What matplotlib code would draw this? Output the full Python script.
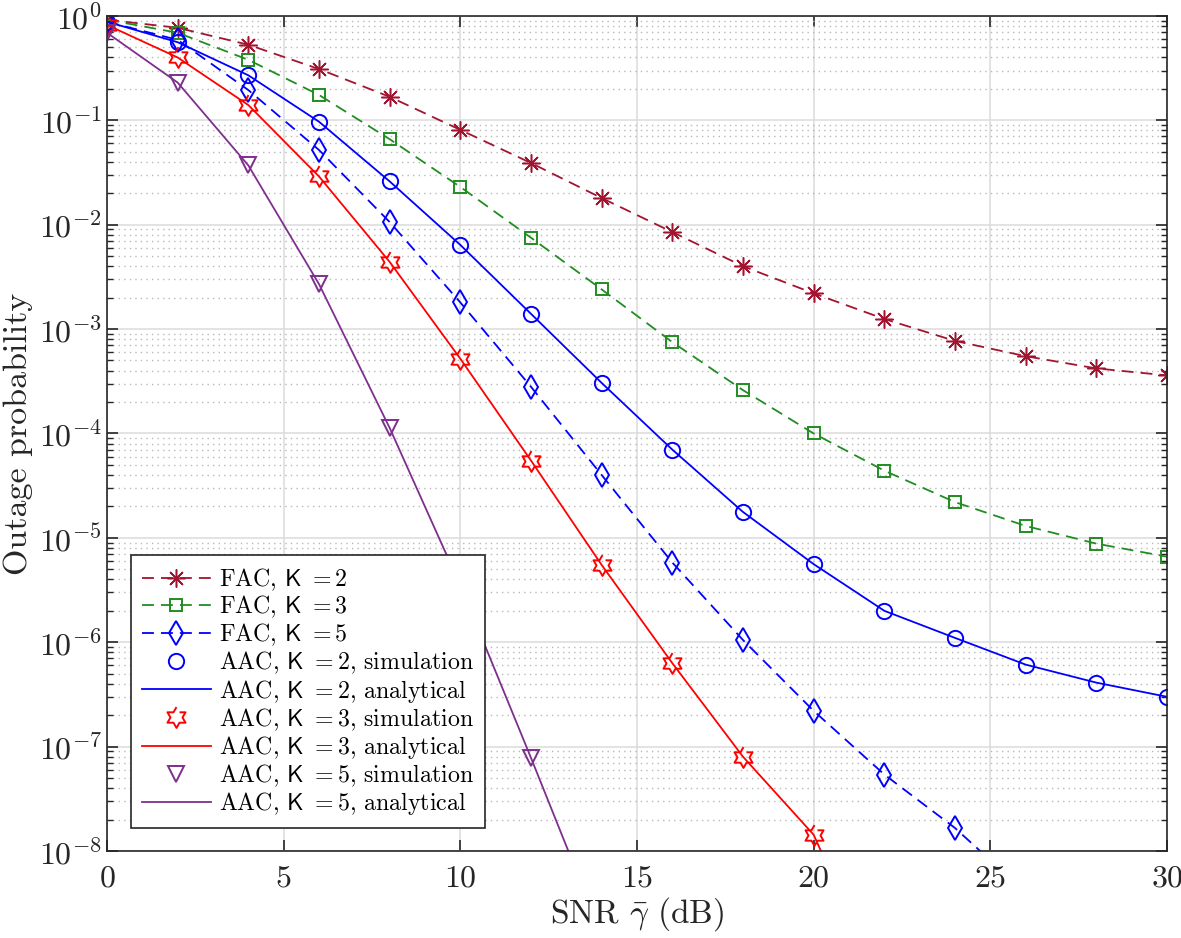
import numpy as np
import matplotlib
matplotlib.use("Agg")
import matplotlib.pyplot as plt
from matplotlib.ticker import LogLocator, NullFormatter, FixedLocator

plt.rcParams['font.family'] = 'cmr10'
plt.rcParams['mathtext.fontset'] = 'cm'
plt.rcParams['axes.unicode_minus'] = False
plt.rcParams['axes.formatter.use_mathtext'] = True

snr = [0, 2, 4, 6, 8, 10, 12, 14, 16, 18, 20, 22, 24, 26, 28, 30]

fac_k2 = [0.92, 0.77, 0.53, 0.31, 0.168, 0.081, 0.039, 0.018, 0.0085, 0.0040,
          0.0022, 0.00125, 0.00077, 0.00055, 0.00042, 0.00036]
fac_k3 = [0.92, 0.69, 0.38, 0.175, 0.066, 0.023, 0.0075, 0.0024, 0.00075, 0.00026,
          1.0e-4, 4.4e-5, 2.2e-5, 1.3e-5, 8.8e-6, 6.6e-6]
fac_k5 = [0.88, 0.59, 0.195, 0.052, 0.0106, 0.0018, 2.8e-4, 4.0e-5, 5.8e-6, 1.05e-6,
          2.2e-7, 5.4e-8, 1.66e-8, 4e-9]
aac_k2 = [0.88, 0.56, 0.27, 0.097, 0.026, 0.0064, 0.0014, 3.05e-4, 7.0e-5, 1.77e-5,
          5.6e-6, 2.0e-6, 1.1e-6, 6.1e-7, 4.1e-7, 3.0e-7]
aac_k3 = [0.82, 0.40, 0.14, 0.029, 0.0044, 5.2e-4, 5.5e-5, 5.5e-6, 6.3e-7, 8.0e-8,
          1.43e-8, 4.5e-10]
aac_k5 = [0.69, 0.23, 0.037, 0.0027, 1.13e-4, 3.5e-6, 7.8e-8, 1.6e-9]

dark_red = (0.635, 0.078, 0.184)
green = (0.13, 0.55, 0.13)
blue = (0, 0, 1)
red = (1, 0, 0)
purple = (0.494, 0.184, 0.556)
dark = (0.15, 0.15, 0.15)

# hexagram marker
ang = np.pi / 2 + np.arange(12) * np.pi / 6
rad = np.where(np.arange(12) % 2 == 0, 1.0, 1 / np.sqrt(3))
hexagram = list(zip(rad * np.cos(ang), rad * np.sin(ang)))

fig = plt.figure(figsize=(11.81, 9.38), dpi=100)
ax = fig.add_axes([0.0906, 0.0928, 0.8975, 0.8902])

lw = 1.3
dash = (6.6, 3.9)
ax.plot(snr[:len(fac_k2)], fac_k2, '--', color=dark_red, marker=(8, 2, 0), ms=13,
        mfc='none', lw=lw, mew=1.1, dashes=dash, label=r'FAC, $\mathsf{K}\ = 2$')
ax.plot(snr[:len(fac_k3)], fac_k3, '--', color=green, marker='s', ms=9,
        mfc='none', lw=lw, mew=1.4, dashes=dash, label=r'FAC, $\mathsf{K}\ = 3$')
ax.plot(snr[:len(fac_k5)], fac_k5, '--', color=blue, marker='d', ms=12.5,
        mfc='none', lw=lw, mew=1.4, dashes=dash, label=r'FAC, $\mathsf{K}\ = 5$')
ax.plot(snr[:len(aac_k2)], aac_k2, 'o', color=blue, ms=11, mfc='none', mew=1.4,
        label=r'AAC, $\mathsf{K}\ = 2$, simulation')
ax.plot(snr[:len(aac_k2)], aac_k2, '-', color=blue, lw=lw,
        label=r'AAC, $\mathsf{K}\ = 2$, analytical')
ax.plot(snr[:len(aac_k3)], aac_k3, ' ', color=red, marker=hexagram, ms=15, mfc='none',
        mew=1.4, label=r'AAC, $\mathsf{K}\ = 3$, simulation')
ax.plot(snr[:len(aac_k3)], aac_k3, '-', color=red, lw=lw,
        label=r'AAC, $\mathsf{K}\ = 3$, analytical')
ax.plot(snr[:len(aac_k5)], aac_k5, 'v', color=purple, ms=12, mfc='none', mew=1.4,
        label=r'AAC, $\mathsf{K}\ = 5$, simulation')
ax.plot(snr[:len(aac_k5)], aac_k5, '-', color=purple, lw=lw,
        label=r'AAC, $\mathsf{K}\ = 5$, analytical')

ax.set_yscale('log')
ax.set_xlim(0, 30)
ax.set_ylim(1e-8, 1)
ax.xaxis.set_major_locator(FixedLocator([0, 5, 10, 15, 20, 25, 30]))
ax.yaxis.set_major_locator(FixedLocator([1e-8, 1e-7, 1e-6, 1e-5, 1e-4, 1e-3, 1e-2, 1e-1, 1]))
ax.yaxis.set_minor_locator(LogLocator(base=10, subs=np.arange(2, 10), numticks=100))
ax.yaxis.set_minor_formatter(NullFormatter())
ax.yaxis.set_major_formatter(matplotlib.ticker.LogFormatterSciNotation())

ax.grid(True, which='major', color=(0.86, 0.86, 0.86), lw=1.1, ls='-')
ax.grid(True, which='minor', axis='y', color=(0.72, 0.72, 0.72), lw=1.0, ls=(0, (1, 3)))
ax.set_axisbelow(True)

ax.tick_params(which='both', direction='in', top=True, right=True, colors=dark)
ax.tick_params(which='major', length=8, width=1.2, labelsize=23, labelcolor=dark)
ax.tick_params(axis='x', which='major', pad=10)
ax.tick_params(which='minor', length=4.5, width=1.0)
for s in ax.spines.values():
    s.set_color(dark)
    s.set_linewidth(1.2)

ax.set_xlabel(r'SNR $\bar{\gamma}$ (dB)', fontsize=24, color=dark, labelpad=2)
ax.set_ylabel('Outage probability', fontsize=24.5, color=dark, labelpad=4)

leg = ax.legend(loc='lower left', bbox_to_anchor=(0.0226, 0.0275), borderaxespad=0,
                fontsize=17.2, handlelength=2.9, labelspacing=0.06, fancybox=False,
                framealpha=1, edgecolor=dark, borderpad=0.45, handletextpad=0.35)
leg.get_frame().set_linewidth(1.2)

fig.savefig('out.png', dpi=100)
